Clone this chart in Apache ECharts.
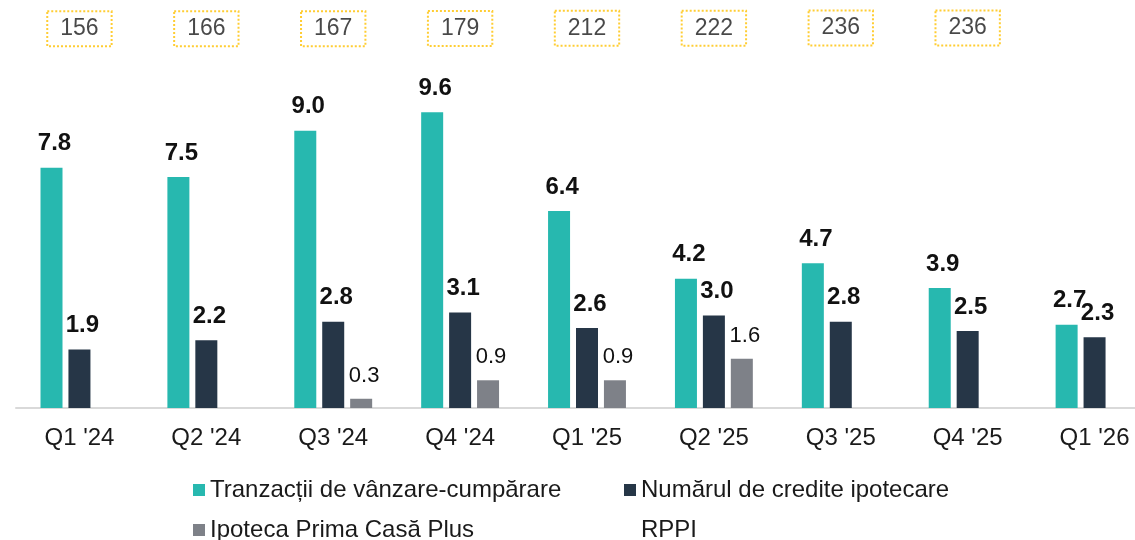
<!DOCTYPE html>
<html>
<head>
<meta charset="utf-8">
<script src="https://cdn.jsdelivr.net/npm/echarts@6/dist/echarts.min.js"></script>
<style>
  html, body { margin: 0; padding: 0; background: #ffffff; }
  #chart { width: 1135px; height: 540px; }
</style>
</head>
<body>
<div id="chart"></div>
<script>
const categories = ["Q1 '24", "Q2 '24", "Q3 '24", "Q4 '24", "Q1 '25", "Q2 '25", "Q3 '25", "Q4 '25", "Q1 '26"];
const tranzactii = [7.8, 7.5, 9.0, 9.6, 6.4, 4.2, 4.7, 3.9, 2.7];
const credite = [1.9, 2.2, 2.8, 3.1, 2.6, 3.0, 2.8, 2.5, 2.3];
const primaCasa = [null, null, 0.3, 0.9, 0.9, 1.6, null, null, null];
const rppi = [156, 166, 167, 179, 212, 222, 236, 236, null];

const seriesNames = ['Tranzacții de vânzare-cumpărare', 'Numărul de credite ipotecare', 'Ipoteca Prima Casă Plus', 'RPPI'];
const colors = ['#27B8AF', '#263647', '#7E8188'];
const FONT = 'Liberation Sans, Arial, sans-serif';

const chart = echarts.init(document.getElementById('chart'), null, { renderer: 'canvas' });

const fmt1 = p => (p.value == null ? '' : Number(p.value).toFixed(1));

function barSeries(name, data, color, bold) {
  return {
    name: name,
    type: 'bar',
    xAxisIndex: 0,
    yAxisIndex: 0,
    data: data,
    barWidth: 22,
    barGap: '27%',
    itemStyle: { color: color },
    label: {
      show: true,
      position: 'top',
      distance: 12,
      offset: [3, 0],
      formatter: fmt1,
      fontFamily: FONT,
      fontSize: bold ? 24 : 22,
      fontWeight: bold ? 'bold' : 'normal',
      color: '#111111'
    }
  };
}

const legendText = { fontFamily: FONT, fontSize: 24, lineHeight: 24, color: '#1a1a1a' };

function legendItem(item, left, top) {
  return {
    orient: 'horizontal',
    left: left,
    top: top,
    icon: 'rect',
    itemWidth: 12,
    itemHeight: 12,
    padding: 0,
    textStyle: legendText,
    data: [item]
  };
}

const option = {
  animation: false,
  backgroundColor: '#ffffff',
  grid: [
    { left: 16, width: 1142, top: 100, height: 308, outerBoundsMode: 'none', containLabel: false },
    { left: 16, width: 1142, top: 28, height: 2, outerBoundsMode: 'none', containLabel: false }
  ],
  xAxis: [
    {
      type: 'category',
      gridIndex: 0,
      data: categories,
      axisLine: { show: true, lineStyle: { color: '#D9D9D9', width: 2 } },
      axisTick: { show: false },
      axisLabel: { fontFamily: FONT, fontSize: 24, color: '#1a1a1a', margin: 18 }
    },
    {
      type: 'category',
      gridIndex: 1,
      data: categories,
      show: false
    }
  ],
  yAxis: [
    { type: 'value', gridIndex: 0, min: 0, max: 10, show: false },
    { type: 'value', gridIndex: 1, min: 0, max: 250, show: false }
  ],
  legend: [
    legendItem(seriesNames[0], 193, 478),
    legendItem(seriesNames[1], 624, 478),
    legendItem(seriesNames[2], 193, 518),
    legendItem({ name: seriesNames[3], itemStyle: { color: 'rgba(0,0,0,0)', borderWidth: 0 } }, 624, 518)
  ],
  series: [
    barSeries(seriesNames[0], tranzactii, colors[0], true),
    barSeries(seriesNames[1], credite, colors[1], true),
    barSeries(seriesNames[2], primaCasa, colors[2], false),
    {
      name: seriesNames[3],
      type: 'scatter',
      xAxisIndex: 1,
      yAxisIndex: 1,
      data: rppi,
      symbolSize: 1,
      itemStyle: { color: 'rgba(0,0,0,0)' },
      label: {
        show: true,
        position: 'inside',
        formatter: p => (p.value == null ? '' : String(p.value)),
        fontFamily: FONT,
        fontSize: 23,
        color: '#1a1a1a',
        borderColor: '#FFC000',
        borderWidth: 2,
        borderType: 'dotted',
        padding: [6, 13, 6, 13]
      }
    }
  ]
};

chart.setOption(option);
</script>
</body>
</html>
